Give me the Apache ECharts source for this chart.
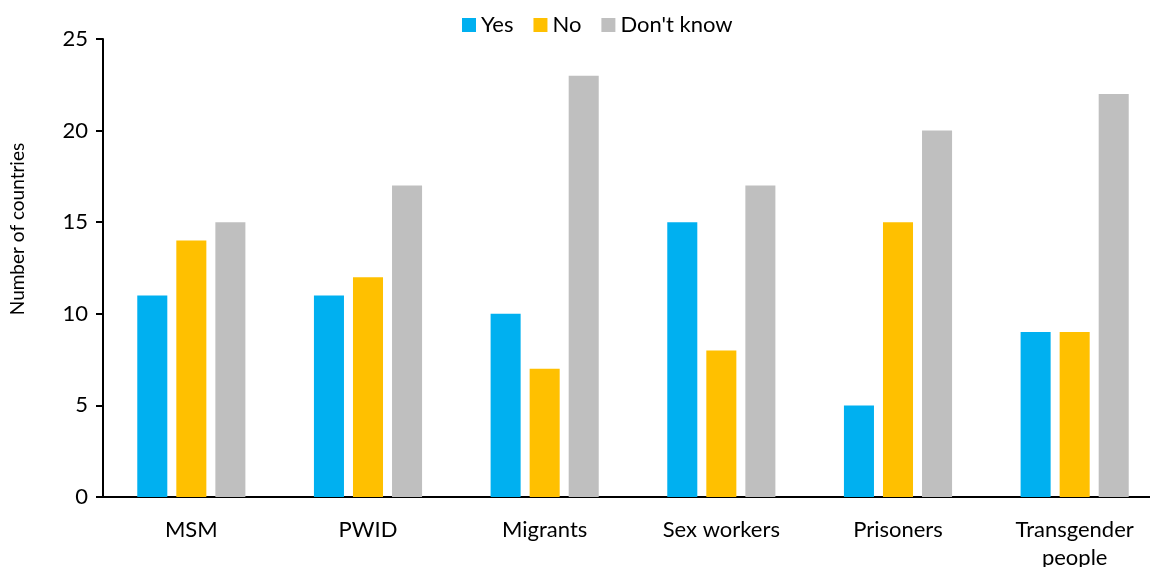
<!DOCTYPE html>
<html><head><meta charset="utf-8">
<script src="https://cdn.jsdelivr.net/npm/echarts@6/dist/echarts.min.js"></script>
<style>html,body{margin:0;padding:0;background:#fff}#c{width:1150px;height:567px}</style>
</head><body><div id="c"></div>
<script>
const categories = ['MSM', 'PWID', 'Migrants', 'Sex workers', 'Prisoners', 'Transgender\npeople'];
const yesValues = [11, 11, 10, 15, 5, 9];
const noValues = [14, 12, 7, 8, 15, 9];
const dontKnowValues = [15, 17, 23, 17, 20, 22];
const yTicks = [0, 5, 10, 15, 20, 25];

const FONT = 'Lato';
const chart = echarts.init(document.getElementById('c'), null, {renderer: 'canvas'});
const barStyle = {barWidth: '17%', barGap: '30%'};
chart.setOption({
  animation: false,
  textStyle: {fontFamily: FONT},
  legend: {
    top: 9, left: 457, itemWidth: 14, itemHeight: 14, itemGap: 20,
    icon: 'rect',
    textStyle: {fontSize: 22, color: '#000', fontFamily: FONT},
    data: ['Yes', 'No', "Don't know"]
  },
  grid: {left: 103, top: 39, width: 1060, height: 458, containLabel: false, outerBoundsMode: 'none'},
  xAxis: {
    type: 'category', data: categories,
    axisLine: {lineStyle: {color: '#000', width: 2}},
    axisTick: {show: false},
    axisLabel: {color: '#000', fontSize: 22, margin: 19, lineHeight: 28, fontFamily: FONT}
  },
  yAxis: {
    type: 'value', min: 0, max: 25, interval: 5,
    axisLine: {show: true, lineStyle: {color: '#000', width: 2}},
    axisTick: {show: true, length: 7, lineStyle: {color: '#000', width: 2}},
    splitLine: {show: false},
    axisLabel: {color: '#000', fontSize: 22, margin: 15, fontFamily: FONT,
      formatter: v => yTicks.includes(v) ? String(v) : ''}
  },
  graphic: [{
    type: 'text', rotation: Math.PI / 2,
    x: 18, y: 229,
    style: {text: 'Number of countries', fontSize: 19, fill: '#000', fontFamily: FONT,
      textAlign: 'center', textVerticalAlign: 'middle'}
  }],
  series: [
    Object.assign({name: 'Yes', type: 'bar', data: yesValues, itemStyle: {color: '#00B0F0'}}, barStyle),
    Object.assign({name: 'No', type: 'bar', data: noValues, itemStyle: {color: '#FFC000'}}, barStyle),
    Object.assign({name: "Don't know", type: 'bar', data: dontKnowValues, itemStyle: {color: '#BFBFBF'}}, barStyle)
  ]
});
</script></body></html>
